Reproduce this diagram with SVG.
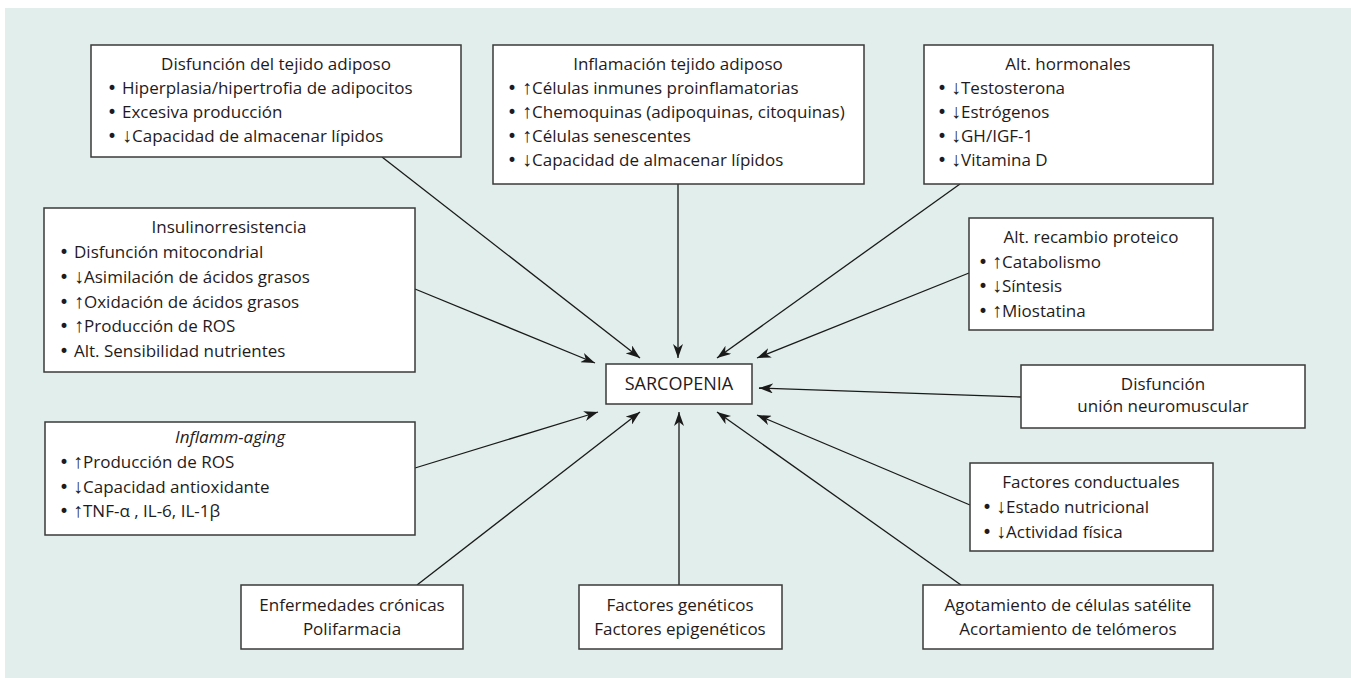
<svg xmlns="http://www.w3.org/2000/svg" width="1351" height="678" viewBox="0 0 1351 678">
  <defs>
    <marker id="arrow" viewBox="0 0 14 10" refX="14" refY="5" markerWidth="14" markerHeight="10" markerUnits="userSpaceOnUse" orient="auto">
      <path d="M0,0 L14,5 L0,10 L4,5 Z" fill="#1a1a1a"/>
    </marker>
    <style>
      .box { fill: #ffffff; stroke: #3a3a3a; stroke-width: 1.5; }
      .t { font-family: "Open Sans", "DejaVu Sans", sans-serif; font-size: 17px; fill: #1f1b1c; }
      .c { text-anchor: middle; }
      .i { font-style: italic; }
      .b { font-family: "DejaVu Sans", sans-serif; font-size: 17px; fill: #1f1b1c; }
      .ar { font-family: "Liberation Sans", "DejaVu Sans", sans-serif; font-size: 20px; }
      .link { stroke: #1a1a1a; stroke-width: 1.3; fill: none; marker-end: url(#arrow); }
    </style>
  </defs>

  <!-- panel background -->
  <rect x="5" y="8" width="1346" height="670" fill="#e1eeeb"/>

  <!-- connectors: every factor points at the central box -->
  <g id="connectors">
    <line class="link" x1="382" y1="157" x2="640" y2="358"/>
    <line class="link" x1="678" y1="184" x2="678" y2="358"/>
    <line class="link" x1="960" y1="184" x2="717" y2="358"/>
    <line class="link" x1="969" y1="273" x2="757" y2="358"/>
    <line class="link" x1="1021" y1="397" x2="759" y2="388"/>
    <line class="link" x1="415" y1="289" x2="595" y2="363"/>
    <line class="link" x1="415" y1="468" x2="598" y2="412"/>
    <line class="link" x1="417" y1="585" x2="640" y2="412"/>
    <line class="link" x1="679" y1="585" x2="679" y2="412"/>
    <line class="link" x1="961" y1="585" x2="717" y2="412"/>
    <line class="link" x1="970" y1="505" x2="757" y2="415"/>
  </g>

  <g id="sarcopenia">
    <rect class="box" x="606" y="364" width="146" height="40"/>
    <text class="t c" x="679" y="390" style="font-size:18px">SARCOPENIA</text>
  </g>

  <g id="disfuncion-tejido-adiposo">
    <rect class="box" x="91" y="45" width="370" height="112"/>
    <text class="t c" x="276" y="70">Disfunción del tejido adiposo</text>
    <text class="b" x="107" y="94">•</text><text class="t" x="122" y="94">Hiperplasia/hipertrofia de adipocitos</text>
    <text class="b" x="107" y="118">•</text><text class="t" x="122" y="118">Excesiva producción</text>
    <text class="b" x="107" y="142">•</text><text class="t" x="122" y="142"><tspan class="ar">↓</tspan>Capacidad de almacenar lípidos</text>
  </g>

  <g id="inflamacion-tejido-adiposo">
    <rect class="box" x="493" y="45" width="371" height="139"/>
    <text class="t c" x="678" y="70">Inflamación tejido adiposo</text>
    <text class="b" x="507" y="94">•</text><text class="t" x="522" y="94"><tspan class="ar">↑</tspan>Células inmunes proinflamatorias</text>
    <text class="b" x="507" y="118">•</text><text class="t" x="522" y="118"><tspan class="ar">↑</tspan>Chemoquinas (adipoquinas, citoquinas)</text>
    <text class="b" x="507" y="142">•</text><text class="t" x="522" y="142"><tspan class="ar">↑</tspan>Células senescentes</text>
    <text class="b" x="507" y="166">•</text><text class="t" x="522" y="166"><tspan class="ar">↓</tspan>Capacidad de almacenar lípidos</text>
  </g>

  <g id="alt-hormonales">
    <rect class="box" x="924" y="45" width="289" height="139"/>
    <text class="t c" x="1068" y="70">Alt. hormonales</text>
    <text class="b" x="937" y="94">•</text><text class="t" x="951" y="94"><tspan class="ar">↓</tspan>Testosterona</text>
    <text class="b" x="937" y="118">•</text><text class="t" x="951" y="118"><tspan class="ar">↓</tspan>Estrógenos</text>
    <text class="b" x="937" y="142">•</text><text class="t" x="951" y="142"><tspan class="ar">↓</tspan>GH/IGF-1</text>
    <text class="b" x="937" y="166">•</text><text class="t" x="951" y="166"><tspan class="ar">↓</tspan>Vitamina D</text>
  </g>

  <g id="insulinorresistencia">
    <rect class="box" x="44" y="208" width="371" height="164"/>
    <text class="t c" x="229" y="233">Insulinorresistencia</text>
    <text class="b" x="59" y="258">•</text><text class="t" x="74" y="258">Disfunción mitocondrial</text>
    <text class="b" x="59" y="283">•</text><text class="t" x="74" y="283"><tspan class="ar">↓</tspan>Asimilación de ácidos grasos</text>
    <text class="b" x="59" y="308">•</text><text class="t" x="74" y="308"><tspan class="ar">↑</tspan>Oxidación de ácidos grasos</text>
    <text class="b" x="59" y="332">•</text><text class="t" x="74" y="332"><tspan class="ar">↑</tspan>Producción de ROS</text>
    <text class="b" x="59" y="357">•</text><text class="t" x="74" y="357">Alt. Sensibilidad nutrientes</text>
  </g>

  <g id="alt-recambio-proteico">
    <rect class="box" x="969" y="218" width="244" height="112"/>
    <text class="t c" x="1091" y="243">Alt. recambio proteico</text>
    <text class="b" x="978" y="268">•</text><text class="t" x="992" y="268"><tspan class="ar">↑</tspan>Catabolismo</text>
    <text class="b" x="978" y="292">•</text><text class="t" x="992" y="292"><tspan class="ar">↓</tspan>Síntesis</text>
    <text class="b" x="978" y="317">•</text><text class="t" x="992" y="317"><tspan class="ar">↑</tspan>Miostatina</text>
  </g>

  <g id="disfuncion-union-neuromuscular">
    <rect class="box" x="1021" y="365" width="284" height="63"/>
    <text class="t c" x="1163" y="390">Disfunción</text>
    <text class="t c" x="1163" y="412">unión neuromuscular</text>
  </g>

  <g id="factores-conductuales">
    <rect class="box" x="970" y="463" width="243" height="88"/>
    <text class="t c" x="1091" y="488">Factores conductuales</text>
    <text class="b" x="982" y="513">•</text><text class="t" x="996" y="513"><tspan class="ar">↓</tspan>Estado nutricional</text>
    <text class="b" x="982" y="538">•</text><text class="t" x="996" y="538"><tspan class="ar">↓</tspan>Actividad física</text>
  </g>

  <g id="inflamm-aging">
    <rect class="box" x="45" y="422" width="370" height="113"/>
    <text class="t c i" x="230" y="443">Inflamm-aging</text>
    <text class="b" x="59" y="468">•</text><text class="t" x="73" y="468"><tspan class="ar">↑</tspan>Producción de ROS</text>
    <text class="b" x="59" y="493">•</text><text class="t" x="73" y="493"><tspan class="ar">↓</tspan>Capacidad antioxidante</text>
    <text class="b" x="59" y="517">•</text><text class="t" x="73" y="517"><tspan class="ar">↑</tspan>TNF-α , IL-6, IL-1β</text>
  </g>

  <g id="enfermedades-cronicas">
    <rect class="box" x="241" y="585" width="222" height="64"/>
    <text class="t c" x="352" y="611">Enfermedades crónicas</text>
    <text class="t c" x="352" y="635">Polifarmacia</text>
  </g>

  <g id="factores-geneticos">
    <rect class="box" x="579" y="585" width="203" height="64"/>
    <text class="t c" x="680" y="611">Factores genéticos</text>
    <text class="t c" x="680" y="635">Factores epigenéticos</text>
  </g>

  <g id="agotamiento-celulas-satelite">
    <rect class="box" x="923" y="585" width="290" height="64"/>
    <text class="t c" x="1068" y="611">Agotamiento de células satélite</text>
    <text class="t c" x="1068" y="635">Acortamiento de telómeros</text>
  </g>
</svg>
